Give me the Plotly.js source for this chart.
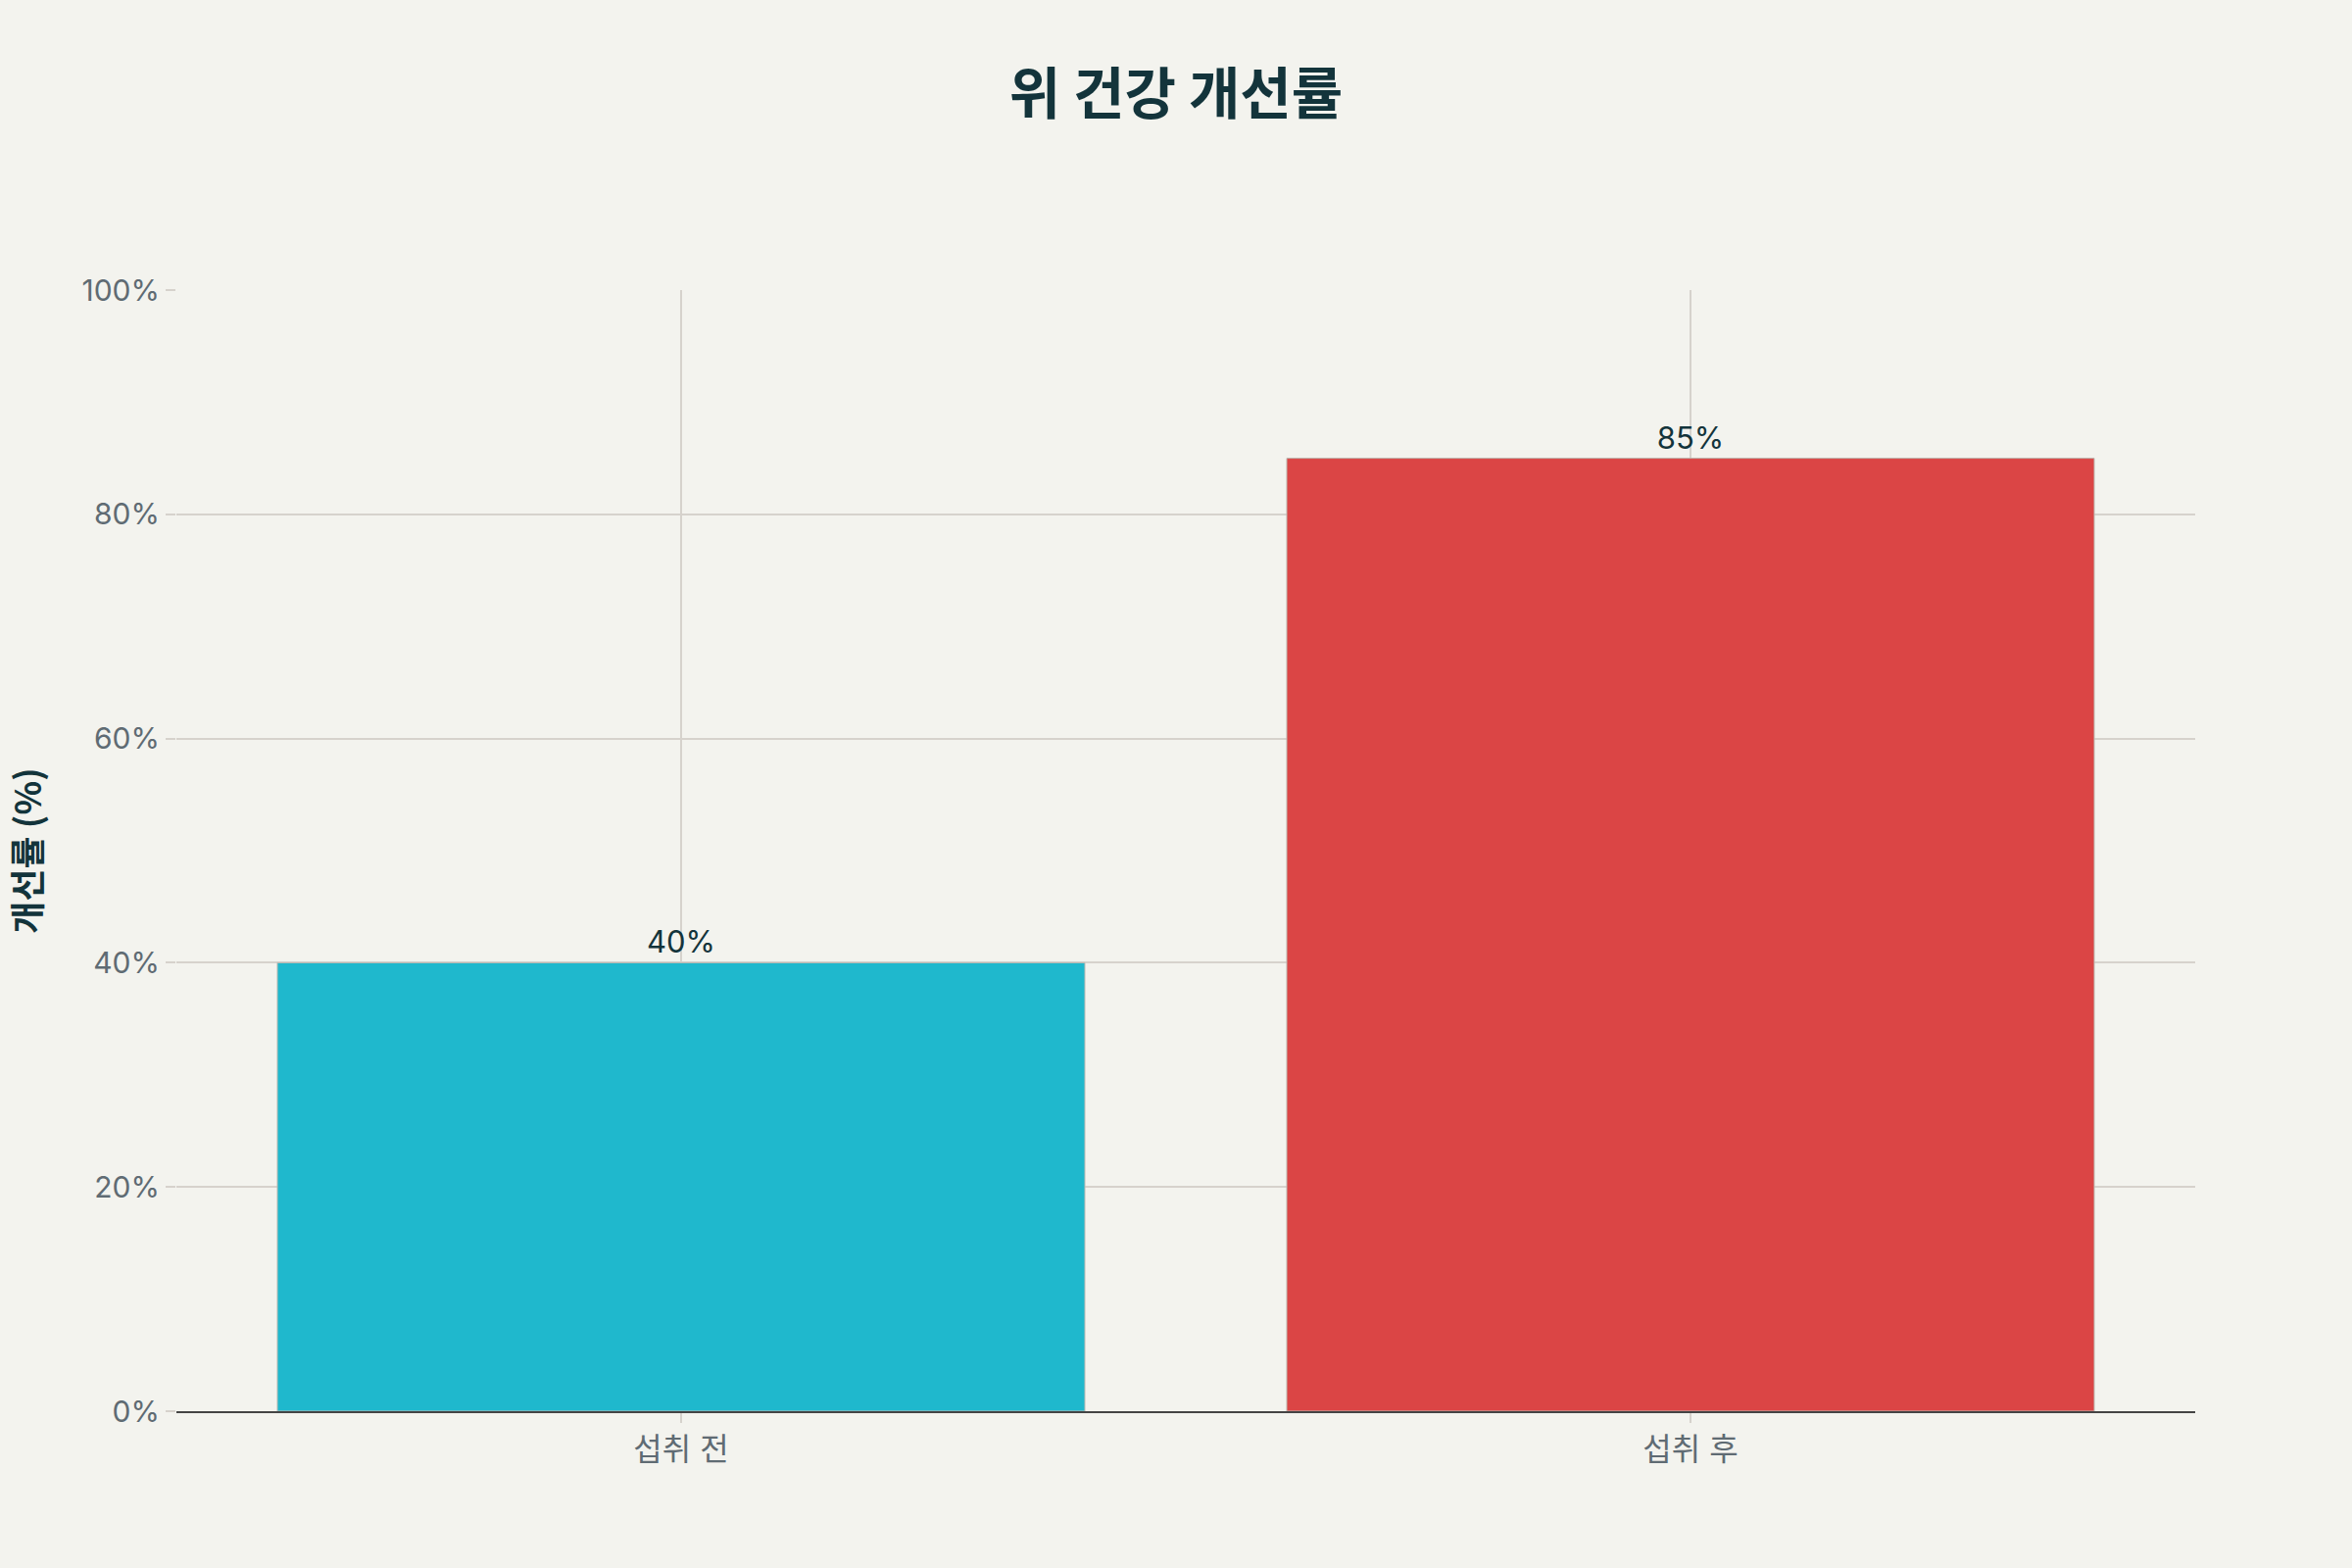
<!DOCTYPE html>
<html>
<head>
<meta charset="utf-8">
<script src="https://cdn.plot.ly/plotly-3.0.1.min.js"></script>
<style>html,body{margin:0;padding:0;background:#F3F3EE;}#chart{width:2400px;height:1600px;}</style>
</head>
<body>
<div id="chart"></div>
<script>
const categories = ["섭취 전", "섭취 후"];
const values = [40, 85];
const labels = ["40%", "85%"];
const barColors = ["#1FB8CD", "#DB4545"];
const yTickVals = [0, 20, 40, 60, 80, 100];
const yTickText = ["0%", "20%", "40%", "60%", "80%", "100%"];

const FONT = "Inter, 'Noto Sans CJK KR', sans-serif";

const trace = {
  type: "bar",
  x: categories,
  y: values,
  text: labels,
  textposition: "outside",
  cliponaxis: false,
  textfont: {family: FONT, size: 31, color: "#13343B"},
  marker: {color: barColors, line: {color: "#BDB9B2", width: 1}},
  hoverinfo: "none"
};

const layout = {
  width: 2400,
  height: 1600,
  paper_bgcolor: "#F3F3EE",
  plot_bgcolor: "#F3F3EE",
  margin: {l: 180, r: 160, t: 296, b: 160},
  bargap: 0.2,
  showlegend: false,
  font: {family: FONT, color: "#5F6B73", size: 30},
  title: {
    text: "<b>위 건강 개선률</b>",
    font: {family: "'Noto Sans CJK KR', sans-serif", size: 57, color: "#13343B"},
    x: 0.5, xanchor: "center",
    y: 1 - 96/1600, yref: "container", yanchor: "middle"
  },
  xaxis: {
    type: "category",
    showgrid: true,
    gridcolor: "#D6D2CC",
    gridwidth: 2,
    showline: true,
    linecolor: "#444444",
    linewidth: 2,
    ticks: "outside",
    ticklen: 10,
    tickwidth: 2,
    tickcolor: "#D6D2CC",
    tickfont: {family: FONT, size: 32, color: "#5F6B73"},
    zeroline: false
  },
  yaxis: {
    range: [0, 100],
    tickvals: yTickVals,
    ticktext: yTickText,
    showgrid: true,
    gridcolor: "#D6D2CC",
    gridwidth: 2,
    zeroline: false,
    showline: false,
    ticks: "outside",
    ticklen: 10,
    tickwidth: 2,
    tickcolor: "#D6D2CC",
    tickfont: {family: FONT, size: 30, color: "#5F6B73"},
    title: {
      text: "<b>개선률 (%)</b>",
      font: {family: "'Noto Sans CJK KR', sans-serif", size: 36, color: "#13343B"},
      standoff: 31
    }
  }
};

Plotly.newPlot("chart", [trace], layout, {displayModeBar: false, staticPlot: true});
</script>
</body>
</html>
